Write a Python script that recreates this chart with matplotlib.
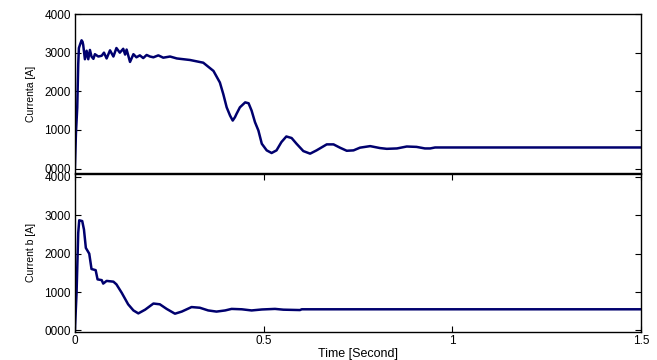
import matplotlib
matplotlib.use("Agg")
import matplotlib.pyplot as plt
from matplotlib.ticker import FixedLocator, FixedFormatter

plt.rcParams["font.family"] = ["Liberation Sans", "DejaVu Sans"]

# Current a (top panel)
t_a = [0, 0.0027, 0.0062, 0.0088, 0.0106, 0.0133, 0.0177, 0.0203, 0.022, 0.0265,
       0.031, 0.0354, 0.0398, 0.044, 0.049, 0.053, 0.062, 0.071, 0.077, 0.084,
       0.093, 0.102, 0.110, 0.119, 0.128, 0.133, 0.137, 0.146, 0.155, 0.163,
       0.172, 0.181, 0.190, 0.199, 0.208, 0.221, 0.234, 0.252, 0.270, 0.305,
       0.340, 0.367, 0.384, 0.393, 0.402, 0.411, 0.418, 0.424, 0.428, 0.437,
       0.451, 0.460, 0.468, 0.477, 0.486, 0.495, 0.508, 0.521, 0.534, 0.547,
       0.560, 0.574, 0.587, 0.605, 0.623, 0.640, 0.667, 0.685, 0.702, 0.720,
       0.738, 0.755, 0.782, 0.808, 0.826, 0.853, 0.879, 0.905, 0.927, 0.941,
       0.954, 1.5]
cur_a = [0, 900, 1580, 2700, 3120, 3200, 3320, 3280, 3200, 2830,
         3050, 2830, 3070, 2900, 2840, 2960, 2900, 2920, 3000, 2850,
         3060, 2900, 3120, 3000, 3100, 2950, 3080, 2760, 2960, 2880,
         2930, 2860, 2940, 2900, 2880, 2930, 2870, 2900, 2850, 2810,
         2740, 2527, 2227, 1928, 1584, 1370, 1242, 1330, 1413, 1584,
         1713, 1690, 1500, 1200, 985, 642, 470, 402, 470, 685,
         830, 790, 642, 452, 385, 470, 625, 625, 540, 460,
         470, 540, 580, 530, 510, 520, 570, 560, 520, 520,
         545, 545]

# Current b (bottom panel)
t_b = [0, 0.0044, 0.0088, 0.0115, 0.0194, 0.024, 0.029, 0.038, 0.044, 0.055,
       0.060, 0.071, 0.075, 0.084, 0.102, 0.110, 0.124, 0.141, 0.155, 0.168,
       0.186, 0.208, 0.225, 0.243, 0.265, 0.283, 0.309, 0.331, 0.353, 0.375,
       0.398, 0.415, 0.442, 0.468, 0.495, 0.530, 0.552, 0.596, 0.601, 1.5]
cur_b = [0, 980, 2540, 2870, 2850, 2630, 2150, 2000, 1600, 1570,
         1330, 1310, 1220, 1290, 1270, 1200, 980, 680, 520, 443,
         540, 700, 680, 560, 435, 490, 608, 590, 520, 490,
         520, 560, 550, 520, 545, 560, 540, 530, 550, 550]

y_ticks = [0, 1000, 2000, 3000, 4000]
y_labels = ["0000", "1000", "2000", "3000", "4000"]
x_ticks = [0, 0.5, 1, 1.5]
x_labels = ["0", "0.5", "1", "1.5"]

color = "#00006e"

fig = plt.figure(figsize=(6.57, 3.6), dpi=100)
ax1 = fig.add_axes([0.114, 0.519, 0.862, 0.442])
ax2 = fig.add_axes([0.114, 0.078, 0.862, 0.439])

ax1.plot(t_a, cur_a, color=color, lw=1.8)
ax2.plot(t_b, cur_b, color=color, lw=1.8)

for ax in (ax1, ax2):
    ax.set_xlim(0, 1.5)
    ax.yaxis.set_major_locator(FixedLocator(y_ticks))
    ax.yaxis.set_major_formatter(FixedFormatter(y_labels))
    ax.tick_params(direction="in", length=4, width=0.8, labelsize=8.5,
                   right=True, pad=3)
    for s in ax.spines.values():
        s.set_linewidth(1.0)

ax1.set_ylim(-120, 4000)
ax1.set_xticks([])
ax1.set_ylabel("Currenta [A]", fontsize=7.5, labelpad=6)

ax2.set_ylim(-40, 4080)
ax2.set_xticks(x_ticks)
ax2.set_xticklabels(x_labels)
ax2.tick_params(axis="x", top=True, pad=2)
ax2.set_ylabel("Current b [A]", fontsize=7.5, labelpad=6)
ax2.set_xlabel("Time [Second]", fontsize=9, labelpad=1)

fig.savefig("out.png", dpi=100)
